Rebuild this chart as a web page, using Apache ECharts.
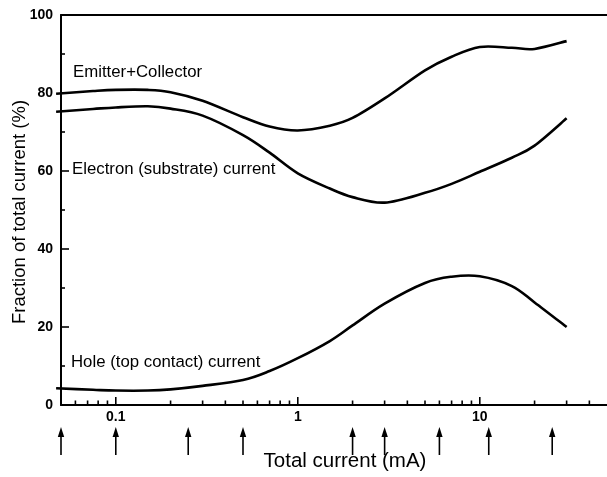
<!DOCTYPE html>
<html>
<head>
<meta charset="utf-8">
<script src="https://cdn.jsdelivr.net/npm/echarts@6/dist/echarts.min.js"></script>
<style>
  html, body { margin: 0; padding: 0; background: #fff; }
  #chart { width: 607px; height: 477px; }
</style>
</head>
<body>
<div id="chart"></div>
<script>
// Fraction of total current (%) versus total current (mA), log-scaled x axis
const currents = [0.047, 0.075, 0.1, 0.15, 0.2, 0.3, 0.5, 0.7, 1, 1.5, 2, 3, 5, 7, 10, 15, 20, 30];
const emitterCollector = [79.8, 80.5, 80.8, 80.8, 80.2, 78.0, 73.8, 71.4, 70.4, 71.6, 73.6, 78.6, 85.8, 89.3, 91.8, 91.6, 91.3, 93.3];
const electronCurrent  = [75.2, 75.9, 76.3, 76.6, 76.0, 74.2, 69.2, 64.7, 59.4, 55.5, 53.3, 51.9, 54.4, 56.7, 59.8, 63.4, 66.5, 73.5];
const holeCurrent      = [4.3, 3.9, 3.7, 3.7, 4.0, 4.9, 6.4, 8.7, 12.0, 16.4, 20.4, 26.0, 31.3, 32.9, 33.0, 30.5, 26.3, 20.0];

// Currents marked by arrows below the axis
const arrowCurrents = [0.05, 0.1, 0.25, 0.5, 2, 3, 6, 11.2, 25];

// Log-axis tick positions
const majorTicks = [0.1, 1, 10];
const minorTicks = [0.06, 0.07, 0.08, 0.09, 0.2, 0.3, 0.4, 0.5, 0.6, 0.7, 0.8, 0.9,
  2, 3, 4, 5, 6, 7, 8, 9, 20, 30, 40];

const curveNames = ['Emitter+Collector', 'Electron (substrate) current', 'Hole (top contact) current'];
const xTitle = 'Total current (mA)';
const yTitle = 'Fraction of total current (%)';

const FONT = "'Liberation Sans', Arial, Helvetica, sans-serif";
const X_MIN = 0.05, X_MAX = 50;

const chart = echarts.init(document.getElementById('chart'), null, { renderer: 'canvas' });

// Smooth curve through the data points (Catmull-Rom converted to cubic Bezier),
// positioned with the axis scales via api.coord.
function curve(name, values) {
  const data = currents.map((c, i) => [c, values[i]]);
  const last = data.length - 1;
  return {
    name, type: 'custom', xAxisIndex: 0, yAxisIndex: 0, clip: false, silent: true, animation: false,
    data,
    renderItem: (params, api) => {
      if (params.dataIndex !== last) return null;
      const pts = data.map(d => api.coord(d));
      const n = pts.length;
      let path = 'M' + pts[0][0] + ',' + pts[0][1];
      for (let i = 0; i < n - 1; i++) {
        const p0 = pts[Math.max(i - 1, 0)], p1 = pts[i], p2 = pts[i + 1], p3 = pts[Math.min(i + 2, n - 1)];
        const c1x = p1[0] + (p2[0] - p0[0]) / 6, c1y = p1[1] + (p2[1] - p0[1]) / 6;
        const c2x = p2[0] - (p3[0] - p1[0]) / 6, c2y = p2[1] - (p3[1] - p1[1]) / 6;
        path += ' C' + c1x + ',' + c1y + ' ' + c2x + ',' + c2y + ' ' + p2[0] + ',' + p2[1];
      }
      return {
        type: 'path',
        shape: { pathData: path },
        style: { stroke: '#000', lineWidth: 2.6, fill: 'none', lineJoin: 'round', lineCap: 'butt' }
      };
    }
  };
}

function tickSeries(values, len) {
  return {
    type: 'custom', xAxisIndex: 0, yAxisIndex: 0, silent: true, animation: false,
    data: values.map(v => [v, 0]),
    renderItem: (params, api) => {
      const p = api.coord([api.value(0), api.value(1)]);
      return {
        type: 'line',
        shape: { x1: p[0], y1: p[1], x2: p[0], y2: p[1] - len },
        style: { stroke: '#000', lineWidth: 1.6 }
      };
    }
  };
}

const option = {
  backgroundColor: '#fff',
  animation: false,
  grid: [
    { left: 61, right: -3, top: 15, bottom: 72, containLabel: false },
    { left: 61, right: -3, top: 427, height: 28, containLabel: false }
  ],
  xAxis: [
    {
      type: 'log', logBase: 10, min: X_MIN, max: X_MAX, gridIndex: 0, position: 'bottom',
      axisLine: { show: true, onZero: false, lineStyle: { color: '#000', width: 2 } },
      axisTick: { show: false },
      splitLine: { show: false },
      axisLabel: {
        color: '#000', fontFamily: FONT, fontSize: 14, fontWeight: 'bold', margin: 5,
        showMinLabel: false, showMaxLabel: false,
        formatter: v => majorTicks.some(m => Math.abs(m - v) / m < 1e-6) ? String(v) : ''
      }
    },
    {
      type: 'log', logBase: 10, min: X_MIN, max: X_MAX, gridIndex: 0, position: 'top',
      axisLine: { show: true, onZero: false, lineStyle: { color: '#000', width: 2 } },
      axisTick: { show: false }, axisLabel: { show: false }, splitLine: { show: false }
    },
    {
      type: 'log', logBase: 10, min: X_MIN, max: X_MAX, gridIndex: 1, show: false
    }
  ],
  yAxis: [
    {
      type: 'value', min: 0, max: 100, interval: 20, gridIndex: 0,
      axisLine: { show: true, lineStyle: { color: '#000', width: 2 } },
      axisTick: { show: true, inside: true, length: 8, lineStyle: { color: '#000', width: 1.6 } },
      minorTick: { show: true, splitNumber: 2, length: 4, lineStyle: { color: '#000', width: 1.6 } },
      splitLine: { show: false },
      axisLabel: { color: '#000', fontFamily: FONT, fontSize: 14, fontWeight: 'bold', margin: 8 }
    },
    { type: 'value', min: 0, max: 1, gridIndex: 1, show: false }
  ],
  graphic: [
    {
      type: 'text', left: 73, top: 64, silent: true,
      style: { text: curveNames[0], fontFamily: FONT, fontSize: 16.8, fill: '#000' }
    },
    {
      type: 'text', left: 72, top: 161, silent: true,
      style: { text: curveNames[1], fontFamily: FONT, fontSize: 16.8, fill: '#000' }
    },
    {
      type: 'text', left: 71, top: 354, silent: true,
      style: { text: curveNames[2], fontFamily: FONT, fontSize: 16.8, fill: '#000' }
    },
    {
      type: 'text', x: 345, y: 461, silent: true,
      style: { text: xTitle, fontFamily: FONT, fontSize: 20.5, fill: '#000', align: 'center', verticalAlign: 'middle' }
    },
    {
      type: 'text', x: 20, y: 212, rotation: Math.PI / 2, silent: true,
      style: { text: yTitle, fontFamily: FONT, fontSize: 18.5, fill: '#000', align: 'center', verticalAlign: 'middle' }
    }
  ],
  series: [
    curve(curveNames[0], emitterCollector),
    curve(curveNames[1], electronCurrent),
    curve(curveNames[2], holeCurrent),
    tickSeries(majorTicks, 8),
    tickSeries(minorTicks, 4.5),
    {
      type: 'custom', xAxisIndex: 2, yAxisIndex: 1, silent: true, animation: false, clip: false,
      data: arrowCurrents.map(v => [v]),
      renderItem: (params, api) => {
        const x = api.value(0);
        const b = api.coord([x, 0]);
        const t = api.coord([x, 1]);
        return {
          type: 'group',
          children: [
            { type: 'line', shape: { x1: b[0], y1: b[1], x2: t[0], y2: t[1] + 8 },
              style: { stroke: '#000', lineWidth: 1.6 } },
            { type: 'polygon', shape: { points: [[t[0], t[1]], [t[0] - 3.2, t[1] + 10], [t[0] + 3.2, t[1] + 10]] },
              style: { fill: '#000' } }
          ]
        };
      }
    }
  ]
};

chart.setOption(option);
</script>
</body>
</html>
